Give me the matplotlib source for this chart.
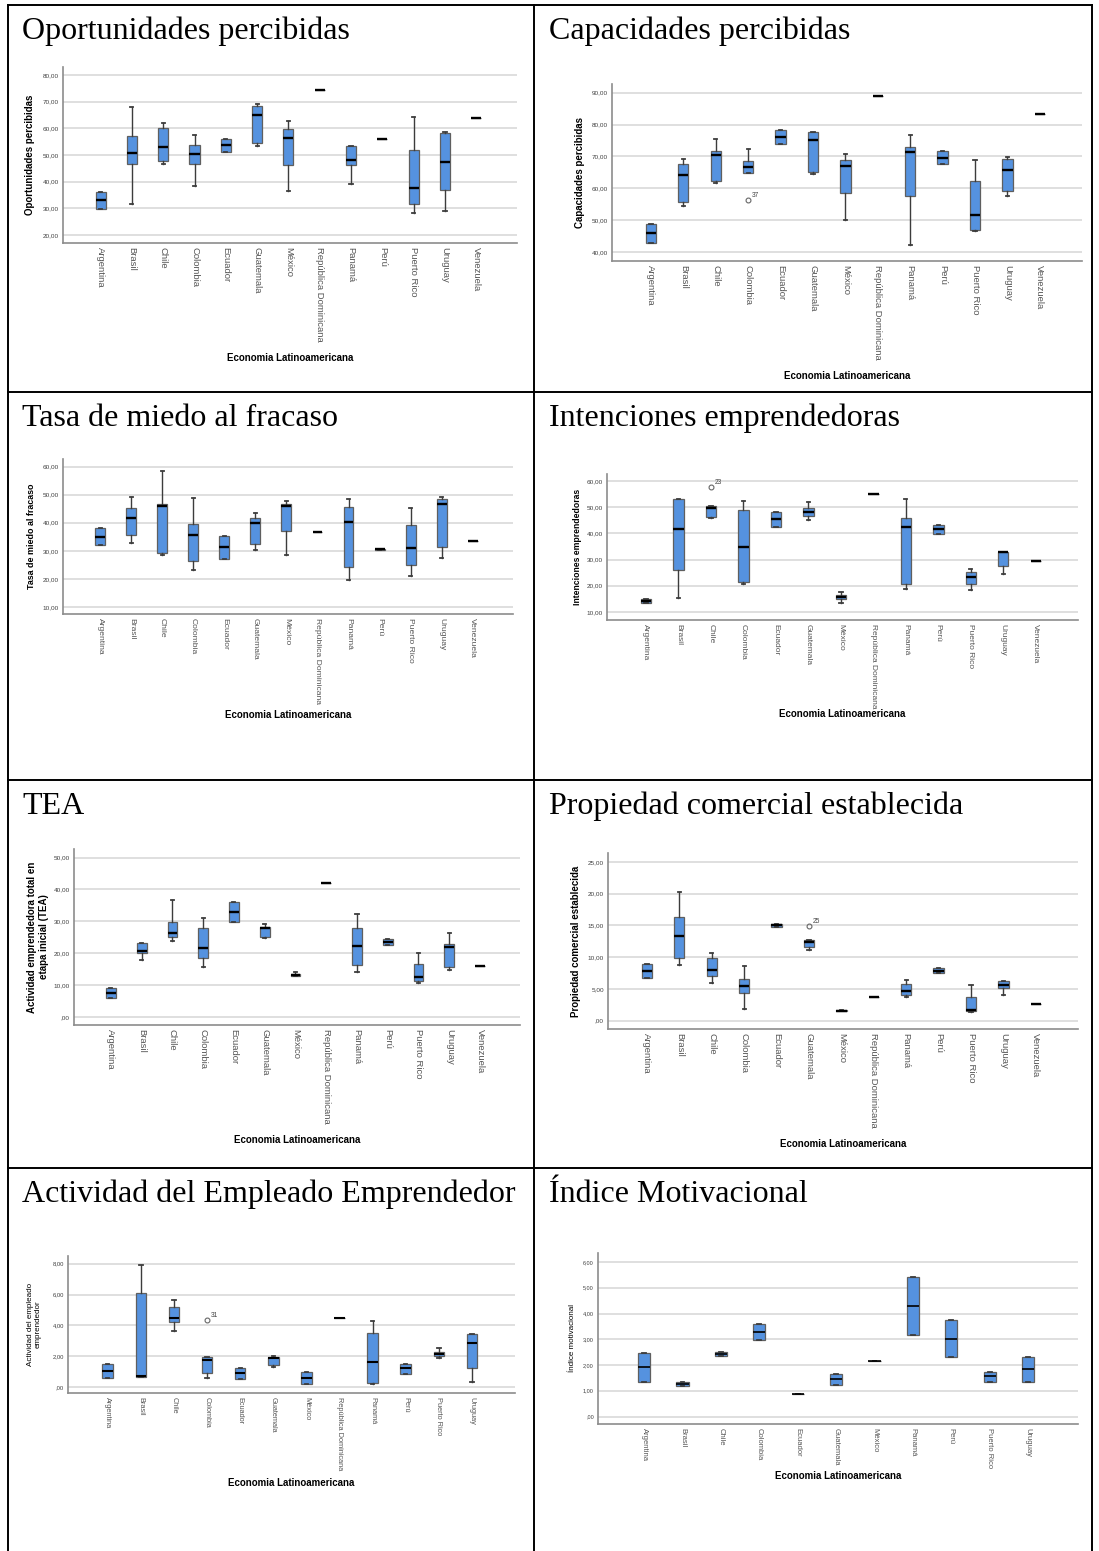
import matplotlib
matplotlib.use("Agg")
import matplotlib.pyplot as plt
from matplotlib.lines import Line2D

plt.rcParams["font.family"] = ["Liberation Sans", "DejaVu Sans"]

# ---- data ----
countries13 = ["Argentina", "Brasil", "Chile", "Colombia", "Ecuador", "Guatemala",
               "México", "República Dominicana", "Panamá", "Perú", "Puerto Rico",
               "Uruguay", "Venezuela"]
countries12 = countries13[:-1]
countries11 = [c for c in countries12 if c != "República Dominicana"]

# Oportunidades percibidas
opo_lo = [29.8, 31.5, 46.8, 38.2, 51.2, 53.5, 36.5, 74.5, 39.1, 56.0, 28.1, 29.0, 63.8]
opo_q1 = [29.8, 46.5, 47.7, 46.7, 51.2, 54.6, 46.4, 74.5, 46.4, 56.0, 31.7, 36.9, 63.8]
opo_med = [33.0, 50.8, 53.1, 50.2, 53.6, 65.0, 56.5, 74.5, 48.1, 56.0, 37.5, 47.3, 63.8]
opo_q3 = [36.2, 57.3, 60.0, 53.6, 56.0, 68.4, 59.8, 74.5, 53.5, 56.0, 51.8, 58.3, 63.8]
opo_hi = [36.2, 68.0, 62.0, 57.6, 56.0, 69.2, 62.8, 74.5, 53.5, 56.0, 64.2, 58.5, 63.8]

# Capacidades percibidas
cap_lo = [43.0, 54.3, 61.8, 64.7, 74.0, 64.4, 50.0, 88.8, 42.2, 67.6, 46.5, 57.5, 83.3]
cap_q1 = [43.0, 55.8, 62.4, 64.7, 74.0, 65.0, 58.5, 88.8, 57.5, 67.6, 46.9, 59.0, 83.3]
cap_med = [45.9, 64.2, 70.5, 66.6, 76.2, 75.2, 67.0, 88.8, 71.3, 69.6, 51.7, 65.6, 83.3]
cap_q3 = [48.8, 67.7, 71.7, 68.5, 78.3, 77.5, 68.8, 88.8, 72.8, 71.7, 62.2, 69.1, 83.3]
cap_hi = [48.8, 69.1, 75.5, 72.4, 78.3, 77.5, 70.6, 88.8, 76.6, 71.7, 68.8, 69.7, 83.3]
cap_out = [(3, 56.2, "37")]

# Tasa de miedo al fracaso
mie_lo = [32.0, 32.7, 28.6, 23.3, 27.2, 30.4, 28.6, 36.8, 19.6, 30.2, 21.0, 27.5, 33.5]
mie_q1 = [32.0, 35.7, 29.4, 26.2, 27.2, 32.6, 37.1, 36.8, 24.1, 30.2, 24.9, 31.2, 33.5]
mie_med = [35.0, 41.6, 45.8, 35.7, 31.2, 39.9, 45.8, 36.8, 40.4, 30.5, 31.1, 46.7, 33.5]
mie_q3 = [38.0, 45.2, 46.8, 39.5, 35.4, 41.6, 46.7, 36.8, 45.5, 30.8, 39.1, 48.3, 33.5]
mie_hi = [38.0, 49.0, 58.3, 48.9, 35.4, 43.3, 47.8, 36.8, 48.5, 30.8, 45.4, 49.0, 33.5]

# Intenciones emprendedoras
int_lo = [13.3, 15.2, 45.9, 20.8, 42.6, 45.0, 13.3, 54.9, 18.9, 39.7, 18.2, 24.3, 29.4]
int_q1 = [13.3, 26.0, 46.2, 21.3, 42.6, 46.7, 14.8, 54.9, 20.8, 39.7, 20.7, 27.4, 29.4]
int_med = [14.1, 41.5, 49.7, 34.7, 45.5, 48.2, 15.8, 54.9, 42.5, 41.5, 23.3, 32.7, 29.4]
int_q3 = [14.9, 53.0, 50.6, 48.8, 48.2, 49.8, 16.6, 54.9, 46.0, 43.2, 25.1, 33.0, 29.4]
int_hi = [14.9, 53.0, 50.6, 52.5, 48.2, 52.1, 17.5, 54.9, 53.0, 43.2, 26.4, 33.0, 29.4]
int_out = [(2, 57.6, "23")]

# TEA
tea_lo = [6.0, 17.9, 23.8, 15.6, 29.7, 24.7, 12.9, 41.9, 14.0, 22.6, 10.8, 14.9, 15.9]
tea_q1 = [6.0, 20.0, 25.1, 18.6, 29.7, 25.1, 13.0, 41.9, 16.3, 22.6, 11.3, 15.7, 15.9]
tea_med = [7.6, 20.7, 26.5, 21.8, 33.0, 27.8, 13.2, 41.9, 22.4, 23.5, 12.6, 22.1, 15.9]
tea_q3 = [9.2, 23.3, 29.8, 27.8, 36.1, 28.2, 13.5, 41.9, 27.8, 24.4, 16.7, 23.0, 15.9]
tea_hi = [9.2, 23.3, 36.8, 31.2, 36.1, 29.3, 14.1, 41.9, 32.4, 24.4, 20.0, 26.3, 15.9]

# Propiedad comercial establecida
pce_lo = [6.7, 8.7, 6.0, 1.8, 14.7, 11.2, 1.5, 3.8, 3.8, 7.5, 1.3, 4.1, 2.6]
pce_q1 = [6.7, 9.9, 7.1, 4.3, 14.7, 11.6, 1.5, 3.8, 4.1, 7.5, 1.5, 5.1, 2.6]
pce_med = [7.9, 13.3, 8.0, 5.4, 15.0, 12.4, 1.6, 3.8, 4.7, 7.9, 1.7, 5.6, 2.6]
pce_q3 = [9.0, 16.4, 9.9, 6.5, 15.3, 12.7, 1.7, 3.8, 5.8, 8.3, 3.7, 6.3, 2.6]
pce_hi = [9.0, 20.3, 10.6, 8.6, 15.3, 12.7, 1.7, 3.8, 6.4, 8.3, 5.6, 6.3, 2.6]
pce_out = [(5, 14.9, "25")]

# Actividad del Empleado Emprendedor
eea_lo = [0.56, 0.65, 3.65, 0.56, 0.54, 1.32, 0.17, 4.5, 0.22, 0.86, 1.86, 0.30]
eea_q1 = [0.56, 0.65, 4.20, 0.93, 0.54, 1.41, 0.17, 4.5, 0.28, 0.86, 1.99, 1.23]
eea_med = [1.02, 0.71, 4.50, 1.75, 0.93, 1.88, 0.56, 4.5, 1.60, 1.21, 2.12, 2.83]
eea_q3 = [1.47, 6.10, 5.19, 1.95, 1.25, 1.92, 0.97, 4.5, 3.52, 1.51, 2.29, 3.46]
eea_hi = [1.47, 7.90, 5.66, 1.95, 1.25, 2.03, 0.97, 4.5, 4.30, 1.51, 2.55, 3.46]
eea_out = [(3, 4.32, "31")]

# Índice Motivacional (no whiskers)
imo_q1 = [1.36, 1.18, 2.35, 2.96, 0.88, 1.23, 2.15, 3.18, 2.32, 1.36, 1.36]
imo_med = [1.92, 1.27, 2.42, 3.28, 0.88, 1.44, 2.15, 4.30, 3.03, 1.56, 1.84]
imo_q3 = [2.45, 1.34, 2.52, 3.59, 0.88, 1.65, 2.15, 5.43, 3.75, 1.74, 2.30]

# ---- layout ----
W, H = 1099, 1551
BOX = "#5592DF"
XLAB = "Economia Latinoamericana"

fig = plt.figure(figsize=(W / 100, H / 100), dpi=100)


def fx(x):
    return x / W


def fy(y):
    return 1 - y / H


def spss(v):
    s = f"{v:.2f}".replace(".", ",")
    return s[1:] if s.startswith("0,") else s


# table borders
for x in (8, 534, 1092):
    fig.add_artist(Line2D([fx(x), fx(x)], [0, fy(5)], color="black", lw=1.4,
                          transform=fig.transFigure))
for y in (5, 392, 780, 1168):
    fig.add_artist(Line2D([fx(8), fx(1092)], [fy(y), fy(y)], color="black", lw=1.4,
                          transform=fig.transFigure))


def panel(title, tpos, box, cats, lo, q1, med, q3, hi, ylim, yticks, ylabel,
          ylab_x, xlab_y, xfs=6.8, yfs=4.6, lfs=7, lweight="bold", mlw=1.7, out=()):
    left, top, right, bottom = box
    fig.text(fx(tpos[0]), fy(tpos[1]), title, family="Liberation Serif",
             fontsize=23, va="baseline", ha="left")
    ax = fig.add_axes([fx(left), fy(bottom), (right - left) / W, (bottom - top) / H])
    n = len(cats)
    fl = [[] for _ in range(n)]
    for i, v, _ in out:
        fl[i].append(v)
    stats = [dict(whislo=a, q1=b, med=c, q3=d, whishi=e, fliers=f)
             for a, b, c, d, e, f in zip(lo, q1, med, q3, hi, fl)]
    ax.bxp(stats, positions=range(n), widths=0.32, capwidths=0.1,
           patch_artist=True, showfliers=True,
           boxprops=dict(facecolor=BOX, edgecolor="#5f5f5f", lw=0.9),
           medianprops=dict(color="black", lw=mlw),
           whiskerprops=dict(color="#3c3c3c", lw=1.0),
           capprops=dict(color="#3c3c3c", lw=1.3),
           flierprops=dict(marker="o", mfc="none", mec="#666666", ms=3.5, mew=0.8))
    for i, v, lab in out:
        ax.annotate(lab, (i, v), xytext=(2.5, 2.5), textcoords="offset points",
                    fontsize=4.8, color="#444444")
    ax.set_xlim(-1.2, n + 0.3)
    ax.set_ylim(*ylim)
    ax.set_yticks(yticks)
    ax.set_yticklabels([spss(v) for v in yticks], fontsize=yfs, color="#404040")
    ax.set_xticks(range(n))
    ax.set_xticklabels(cats, rotation=-90, fontsize=xfs, color="#555555")
    ax.tick_params(length=0, pad=3)
    ax.grid(axis="y", color="#d9d9d9", lw=1.2)
    ax.set_axisbelow(True)
    for s in ("top", "right"):
        ax.spines[s].set_visible(False)
    for s in ("left", "bottom"):
        ax.spines[s].set_color("#8c8c8c")
        ax.spines[s].set_linewidth(1.2)
    fig.text(fx(ylab_x), fy((top + bottom) / 2), ylabel, rotation=90, ha="center",
             va="center", multialignment="center", fontsize=lfs, weight=lweight)
    fig.text(fx((left + right) / 2), fy(xlab_y), XLAB, ha="center", va="center",
             fontsize=7, weight="bold")
    return ax


panel("Oportunidades percibidas", (22, 39), (63, 67, 517, 243), countries13,
      opo_lo, opo_q1, opo_med, opo_q3, opo_hi, (17, 83), range(20, 81, 10),
      "Oportunidades percibidas", 30, 358)

panel("Capacidades percibidas", (549, 39), (612, 84, 1082, 261), countries13,
      cap_lo, cap_q1, cap_med, cap_q3, cap_hi, (37.2, 92.7), range(40, 91, 10),
      "Capacidades percibidas", 580, 376, out=cap_out)

panel("Tasa de miedo al fracaso", (22, 426), (63, 459, 513, 614), countries13,
      mie_lo, mie_q1, mie_med, mie_q3, mie_hi, (7.5, 62.7), range(10, 61, 10),
      "Tasa de miedo al fracaso", 32, 715, xfs=6.1, lfs=6.4)

panel("Intenciones emprendedoras", (549, 426), (607, 474, 1078, 620), countries13,
      int_lo, int_q1, int_med, int_q3, int_hi, (6.9, 62.7), range(10, 61, 10),
      "Intenciones emprendedoras", 578, 714, xfs=6.0, lfs=6.2, out=int_out)

panel("TEA", (22, 814), (74, 849, 520, 1025), countries13,
      tea_lo, tea_q1, tea_med, tea_q3, tea_hi, (-2.5, 52.7), range(0, 51, 10),
      "Actividad emprendedora total en\netapa inicial (TEA)", 38, 1140)

panel("Propiedad comercial establecida", (549, 814), (608, 853, 1078, 1029),
      countries13, pce_lo, pce_q1, pce_med, pce_q3, pce_hi, (-1.3, 26.4),
      range(0, 26, 5), "Propiedad comercial establecida", 576, 1144, out=pce_out)

panel("Actividad del Empleado Emprendedor", (22, 1202), (68, 1256, 515, 1393),
      countries12, eea_lo, eea_q1, eea_med, eea_q3, eea_hi, (-0.39, 8.5),
      range(0, 9, 2), "Actividad del empleado\nemprendedor", 34, 1483,
      xfs=5.3, yfs=4.2, lfs=5.8, lweight="normal", mlw=1.5, out=eea_out)

panel("Índice Motivacional", (549, 1202), (598, 1253, 1078, 1424), countries11,
      imo_q1, imo_q1, imo_med, imo_q3, imo_q3, (-0.29, 6.35), range(0, 7, 1),
      "Índice motivacional", 572, 1476, xfs=5.5, yfs=4.0, lfs=5.8, lweight="normal",
      mlw=1.2)

fig.savefig("out.png", dpi=100)
